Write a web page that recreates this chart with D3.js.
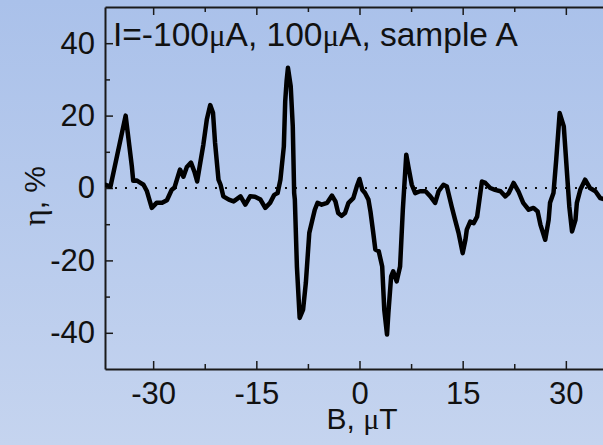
<!DOCTYPE html>
<html>
<head>
<meta charset="utf-8">
<script src="https://cdn.jsdelivr.net/npm/d3@7"></script>
<style>
  html, body { margin: 0; padding: 0; background: #b8cbed; }
  svg { display: block; }
</style>
</head>
<body>
<svg id="chart" width="603" height="445"></svg>
<script>
// ---- data ----
const fieldB = [-37.0,-36.2,-34.0,-33.1,-32.9,-32.4,-31.9,-31.4,-30.9,-30.2,-29.5,-28.7,-28.0,-27.3,-26.9,-26.1,-25.6,-25.1,-24.5,-24.0,-23.6,-23.2,-22.7,-22.2,-21.7,-21.3,-21.0,-20.5,-20.2,-19.8,-19.0,-18.3,-17.3,-16.6,-15.9,-15.2,-14.4,-13.7,-13.0,-12.4,-11.9,-11.5,-11.0,-10.8,-10.6,-10.4,-10.0,-9.7,-9.5,-9.4,-9.1,-8.7,-8.2,-7.8,-7.3,-6.9,-6.5,-6.1,-5.5,-4.7,-4.0,-3.5,-3.1,-2.6,-2.1,-1.6,-0.9,-0.4,0.0,0.4,0.8,1.3,1.6,2.0,2.3,2.8,3.3,3.6,4.0,4.2,4.6,4.9,5.4,5.9,6.3,6.8,7.1,7.6,8.1,8.8,9.6,10.3,11.0,11.5,12.2,12.7,13.4,13.9,14.4,15.0,15.4,15.6,16.1,16.6,17.1,17.8,18.3,19.0,19.7,20.5,21.2,21.7,22.4,23.1,23.8,24.6,25.3,25.9,26.3,27.0,27.5,27.7,28.2,28.6,29.1,29.7,30.1,30.5,30.9,31.4,31.6,32.1,32.8,33.5,34.3,35.0,35.7];
const eta = [0.9,0.4,20.0,6.0,2.0,2.1,1.5,0.9,-0.9,-5.5,-4.1,-4.1,-3.4,-0.5,0.1,5.1,3.1,5.8,7.0,4.5,1.8,6.4,12.0,18.9,22.9,20.8,12.5,2.3,0.9,-2.3,-3.2,-3.7,-2.3,-4.6,-2.3,-2.4,-3.2,-5.5,-4.1,-1.9,-1.4,2.3,11.5,24.0,29.5,33.2,28.1,17.0,-1.4,-3.2,-21.7,-35.9,-33.6,-26.2,-12.4,-9.2,-6.0,-4.1,-4.6,-4.1,-2.1,-3.7,-6.9,-7.7,-6.9,-4.1,-2.8,0.4,2.5,-0.5,-1.4,-3.2,-6.6,-12.4,-17.0,-17.5,-21.7,-33.6,-40.5,-34.5,-24.4,-23.0,-25.8,-21.7,-6.0,9.2,6.0,0.9,-1.4,-0.9,-0.9,-2.3,-4.1,-0.9,0.9,0.4,-5.1,-8.8,-12.4,-18.0,-14.3,-11.5,-9.3,-9.7,-7.9,1.8,1.4,0.0,-0.5,-0.9,-2.3,-1.4,1.4,-0.9,-4.1,-6.0,-5.5,-6.5,-10.1,-14.3,-8.8,-4.1,-1.4,7.8,20.7,17.0,6.0,-5.1,-12.0,-8.8,-4.1,-0.5,2.3,0.0,-0.9,-2.8,-3.2];
const xMajorTicks = [-30, -15, 0, 15, 30];
const xMinorTicks = [-22.5, -7.5, 7.5, 22.5];
const yMajorTicks = [-40, -20, 0, 20, 40];
const yMinorTicks = [-30, -10, 10, 30];
const titleText = ["I=-100", "μ", "A, 100", "μ", "A, sample A"];

// ---- layout ----
const W = 603, H = 445;
const mLeft = 105, mTop = 7, mBottom = 369, mRightEnd = 614;
const svg = d3.select("#chart");

const defs = svg.append("defs");
const grad = defs.append("linearGradient").attr("id", "bg").attr("x1", 0).attr("y1", 0).attr("x2", 0).attr("y2", 1);
grad.append("stop").attr("offset", "0%").attr("stop-color", "#aac1ea");
grad.append("stop").attr("offset", "100%").attr("stop-color", "#c5d4ef");
defs.append("clipPath").attr("id", "plotclip").append("rect")
  .attr("x", mLeft).attr("y", mTop).attr("width", mRightEnd - mLeft).attr("height", mBottom - mTop);

svg.append("rect").attr("width", W).attr("height", H).attr("fill", "url(#bg)");

const x = d3.scaleLinear().domain([-37, 37]).range([mLeft, mRightEnd]);
const y = d3.scaleLinear().domain([-50, 50]).range([mBottom, mTop]);

const FONT = "'Liberation Sans', Arial, sans-serif";
const SERIF = "'Liberation Serif', 'Times New Roman', serif";
const axisColor = "#1a1a1a";
const fmt = d => String(d);   // plain hyphen-minus, as in the reference

// zero dotted line
svg.append("line")
  .attr("x1", x(-37)).attr("x2", W).attr("y1", y(0)).attr("y2", y(0))
  .attr("stroke", "#111").attr("stroke-width", 2).attr("stroke-dasharray", "2,8");

function styleAxis(g) {
  g.select(".domain").attr("stroke", axisColor).attr("stroke-width", 2);
  g.selectAll(".tick line").attr("stroke", axisColor).attr("stroke-width", 1.5);
  g.selectAll("text").attr("font-family", FONT).attr("font-size", 31).attr("fill", "#111");
}

// bottom axis
const gx = svg.append("g").attr("transform", `translate(0,${mBottom})`)
  .call(d3.axisBottom(x).tickValues(xMajorTicks).tickSizeInner(-8).tickSizeOuter(0).tickPadding(13).tickFormat(fmt));
styleAxis(gx);
const gxm = svg.append("g").attr("transform", `translate(0,${mBottom})`)
  .call(d3.axisBottom(x).tickValues(xMinorTicks).tickSizeInner(-5).tickSizeOuter(0).tickFormat(""));
styleAxis(gxm); gxm.select(".domain").remove();

// top axis (ticks only)
const gt = svg.append("g").attr("transform", `translate(0,${mTop})`)
  .call(d3.axisTop(x).tickValues(xMajorTicks).tickSizeInner(-8).tickSizeOuter(0).tickFormat(""));
styleAxis(gt);
const gtm = svg.append("g").attr("transform", `translate(0,${mTop})`)
  .call(d3.axisTop(x).tickValues(xMinorTicks).tickSizeInner(-5).tickSizeOuter(0).tickFormat(""));
styleAxis(gtm); gtm.select(".domain").remove();

// left axis
const gy = svg.append("g").attr("transform", `translate(${mLeft},0)`)
  .call(d3.axisLeft(y).tickValues(yMajorTicks).tickSizeInner(-8).tickSizeOuter(0).tickPadding(10).tickFormat(fmt));
styleAxis(gy);
const gym = svg.append("g").attr("transform", `translate(${mLeft},0)`)
  .call(d3.axisLeft(y).tickValues(yMinorTicks).tickSizeInner(-5).tickSizeOuter(0).tickFormat(""));
styleAxis(gym); gym.select(".domain").remove();

// data line
const pts = fieldB.map((b, i) => [b, eta[i]]);
svg.append("path")
  .datum(pts)
  .attr("clip-path", "url(#plotclip)")
  .attr("fill", "none").attr("stroke", "#000").attr("stroke-width", 4.5)
  .attr("stroke-linejoin", "round").attr("stroke-linecap", "round")
  .attr("d", d3.line().x(d => x(d[0])).y(d => y(d[1])));

// title inside plot
const tt = svg.append("text").attr("x", 113).attr("y", 46)
  .attr("font-family", FONT).attr("font-size", 33.5).attr("fill", "#111");
titleText.forEach(s => {
  const t = tt.append("tspan").text(s);
  if (s === "μ") t.attr("font-family", SERIF).attr("font-size", 31);
});

// x axis title
const xt = svg.append("text").attr("x", 362).attr("y", 429).attr("text-anchor", "middle")
  .attr("font-family", FONT).attr("font-size", 30).attr("fill", "#111");
xt.append("tspan").text("B, ");
xt.append("tspan").attr("font-family", SERIF).text("μ");
xt.append("tspan").text("T");

// y axis title
const yt = svg.append("text").attr("transform", "translate(45,196) rotate(-90)").attr("text-anchor", "middle")
  .attr("font-family", FONT).attr("font-size", 30).attr("fill", "#111");
yt.append("tspan").attr("font-family", SERIF).attr("font-size", 32).text("η");
yt.append("tspan").text(", %");
</script>
</body>
</html>
